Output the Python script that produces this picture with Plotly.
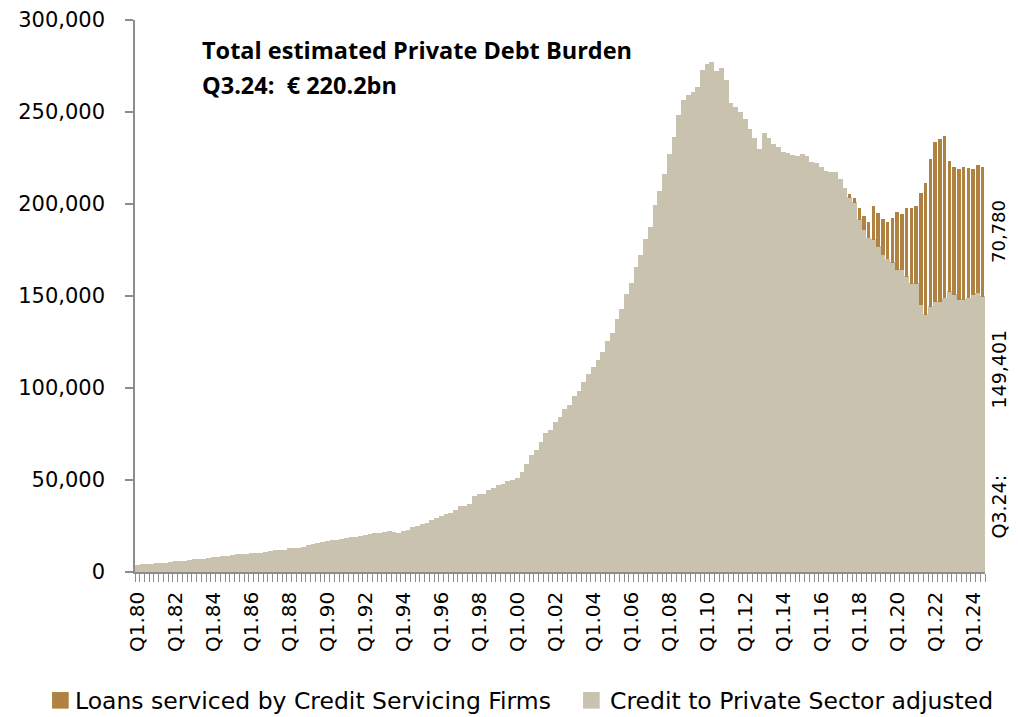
import plotly.graph_objects as go

# Quarterly labels Q1.80 ... Q3.24
quarters = [f"Q{q}.{y % 100:02d}" for y in range(1980, 2025) for q in range(1, 5)][:179]

# Credit to private sector, adjusted (EUR million)
credit_adjusted = [
    3600, 3700, 3700, 3800,
    4500, 4600, 4600, 4800,
    5400, 5600, 5700, 5900,
    6600, 6700, 6800, 7000,
    7800, 7900, 8000, 8300,
    9000, 9100, 9200, 9400,
    10000, 10100, 10100, 10200,
    11200, 11300, 11400, 11600,
    12400, 12500, 12800, 13400,
    14300, 14800, 15500, 15800,
    16400, 16700, 17000, 17600,
    18200, 18400, 18800, 19300,
    19700, 20100, 20600, 21000,
    21500, 22100, 21200, 21000,
    21800, 22300, 23800, 24300,
    25400, 26000, 28000, 29000,
    30000, 30900, 31900, 33200,
    35200, 35600, 36400, 41000,
    41800, 42200, 44000, 45200,
    46700, 47500, 49000, 49400,
    50500, 54000, 58500, 63000,
    66000, 70000, 75000, 76500,
    81000, 84000, 88000, 90500,
    95000, 98000, 103000, 107000,
    111000, 115000, 119000, 125200,
    129300, 137000, 142400, 150500,
    156900, 165600, 171700, 180800,
    186800, 198900, 206700, 215800,
    226600, 236200, 247800, 256000,
    258700, 260500, 262900, 272500,
    275500, 276800, 272000, 273700,
    267000, 254700, 252500, 249300,
    245700, 240200, 235200, 229300,
    238400, 235700, 232100, 230800,
    227900, 227200, 226100, 225400,
    226600, 225400, 222500, 222000,
    219900, 217600, 217000, 217000,
    213000, 208500, 203400, 200400,
    191300, 185900, 181300, 180400,
    176800, 172300, 169900, 168100,
    164100, 164100, 160500, 156500,
    156500, 145100, 139700, 144200,
    146900, 146900, 148700, 152300,
    150500, 147800, 147800, 148700,
    150500, 151400, 149401,
]

# Loans serviced by credit servicing firms (EUR million), from Q3.17
csf_start = "Q3.17"
csf_loans = [
    1900, 2700, 6300, 7600, 9100, 18500, 18500, 19400, 20500, 24100,
    31700, 30500, 37100, 41100, 42400, 61000, 71900, 80100, 87000, 88300,
    88400, 71100, 69800, 71200, 72500, 70700, 68400, 69800, 70780,
]

series_names = ["Loans serviced by Credit Servicing Firms", "Credit to Private Sector adjusted"]

title_line1 = "Total estimated Private Debt Burden"
total_bn = (credit_adjusted[-1] + csf_loans[-1]) / 1000
title_line2 = f"{quarters[-1]}:\u00a0\u00a0€\u00a0{total_bn:.1f}bn"

BEIGE = "#C9C2AE"
BROWN = "#B08242"
AXIS = "#8C8C8C"
FONT = "DejaVu Sans"

i0 = quarters.index(csf_start)
tick_text = [q if (q.startswith("Q1.") and int(q[3:]) % 2 == 0) else "" for q in quarters]

fig = go.Figure()
fig.add_trace(go.Bar(
    x=quarters, y=credit_adjusted, name=series_names[1],
    marker=dict(color=BEIGE, line=dict(color=BEIGE, width=1.6)),
))
fig.add_trace(go.Bar(
    x=quarters[i0:], y=csf_loans, name=series_names[0],
    marker=dict(color=BROWN, line=dict(width=0)),
))

fig.update_layout(
    barmode="stack",
    bargap=0.3,
    width=1018, height=717,
    margin=dict(l=135, r=33, t=20, b=145, autoexpand=False),
    paper_bgcolor="white", plot_bgcolor="white",
    font=dict(family=FONT, color="#000000", size=20),
    showlegend=False,
    xaxis=dict(
        type="category",
        tickmode="array", tickvals=quarters, ticktext=tick_text,
        tickangle=-90, tickson="boundaries",
        ticks="outside", ticklen=8, tickwidth=1, tickcolor=AXIS,
        showline=True, linecolor=AXIS, linewidth=1.5,
        showgrid=False, automargin=False,
        ticklabelstandoff=10,
        tickfont=dict(family=FONT, size=20, color="#000000"),
    ),
    yaxis=dict(
        range=[0, 300000], dtick=50000, tickformat=",d",
        ticks="outside", ticklen=8, tickwidth=1.5, tickcolor=AXIS,
        showline=True, linecolor=AXIS, linewidth=1.5,
        showgrid=False, zeroline=False, automargin=False,
        ticklabelstandoff=16,
        tickfont=dict(family=FONT, size=21, color="#000000"),
    ),
)

# Key below the axis: square swatch + label for each series
key_items = [
    (series_names[0], BROWN, -0.0976, -0.0729),
    (series_names[1], BEIGE, 0.5271, 0.5565),
]
for name, color, sx, tx in key_items:
    fig.add_shape(
        type="rect", xref="paper", yref="paper",
        x0=sx, x1=sx + 0.0196, y0=-0.2175, y1=-0.2475,
        fillcolor=color, line=dict(width=0),
    )
    fig.add_annotation(
        xref="paper", yref="paper", x=tx, y=-0.2335, xanchor="left", yanchor="middle",
        text=name, showarrow=False,
        font=dict(family=FONT, size=23.5, color="#000000"),
    )

# Title text
fig.add_annotation(
    xref="paper", yref="paper", x=0.0765, y=0.946, xanchor="left", yanchor="middle",
    text=f"<b>{title_line1}</b>", showarrow=False,
    font=dict(family="Open Sans", size=23.5, color="#000000"),
)
fig.add_annotation(
    xref="paper", yref="paper", x=0.0765, y=0.882, xanchor="left", yanchor="middle",
    text=f"<b>{title_line2}</b>", showarrow=False,
    font=dict(family="Open Sans", size=23.5, color="#000000"),
)

# Value labels for the latest quarter, rotated beside the last bar
last_q = quarters[-1]
fig.add_annotation(
    xref="paper", yref="y", x=1.0165, y=credit_adjusted[-1] + csf_loans[-1] / 2,
    xanchor="center", yanchor="middle", textangle=-90, showarrow=False,
    text=f"{csf_loans[-1]:,}", font=dict(family=FONT, size=18, color="#000000"),
)
fig.add_annotation(
    xref="paper", yref="y", x=1.0165, y=credit_adjusted[-1] / 2,
    xanchor="center", yanchor="middle", textangle=-90, showarrow=False,
    text=f"{last_q}:" + "\u00a0" * 11 + f"{credit_adjusted[-1]:,}",
    font=dict(family=FONT, size=19, color="#000000"),
)

fig.write_html("out.html")
